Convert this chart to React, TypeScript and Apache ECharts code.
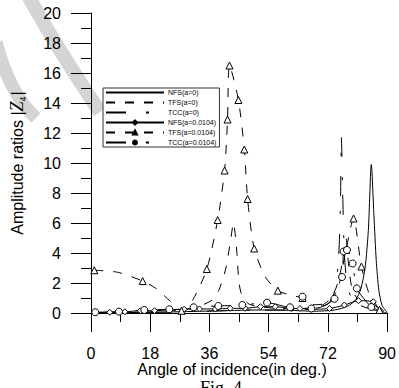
import React, { useEffect, useRef } from "react";
import * as echarts from "echarts";

type P = [number, number];

const seriesNames = [
  "NFS(a=0)",
  "TFS(a=0)",
  "TCC(a=0)",
  "NFS(a=0.0104)",
  "TFS(a=0.0104)",
  "TCC(a=0.0104)",
];

const xMin = 0;
const xMax = 90;
const xStep = 18;
const yMin = 0;
const yMax = 20;
const yStep = 2;

const nfs0: P[] = [
  [0, 0], [10, 0.02], [20, 0.05], [30, 0.1], [40, 0.15], [50, 0.2], [60, 0.18],
  [68, 0.12], [74, 0.2], [78, 0.45], [80.5, 0.9], [82, 1.6], [83.3, 3], [84.3, 5.5],
  [85.2, 9.9], [86, 6.5], [86.7, 3.5], [87.5, 1.5], [88.5, 0.5], [90, 0.05],
];

const tfs0: P[] = [
  [0, 0], [15, 0.05], [25, 0.15], [30, 0.3], [34, 0.55], [37, 0.9], [39, 1.6],
  [41, 3], [42.4, 4.8], [43.3, 6], [44.2, 4.4], [45, 2], [46, 1.1], [48, 0.6],
  [52, 0.4], [58, 0.3], [64, 0.3], [70, 0.5], [73, 1], [75, 2], [76.5, 3.5],
  [77.5, 5], [78.3, 3.2], [79.5, 1.5], [82, 0.7], [86, 0.3], [90, 0],
];

const tcc0: P[] = [
  [0, 0], [20, 0.05], [40, 0.15], [50, 0.2], [60, 0.2], [68, 0.3], [72, 0.6],
  [74, 1.4], [75.2, 3.5], [75.8, 7], [76.1, 11.7], [76.5, 8], [77, 4], [77.8, 2],
  [79, 1.1], [82, 0.5], [86, 0.2], [90, 0],
];

const nfs1Markers: P[] = [
  [1.3, 0.03], [5.7, 0.05], [10.3, 0.08], [15, 0.15], [19.3, 0.15], [24, 0.22],
  [28.3, 0.25], [33, 0.27], [37.8, 0.27], [42.3, 0.31], [46.8, 0.31], [51.5, 0.42],
  [56, 0.42], [61, 0.3], [63.5, 0.3], [67, 0.25], [72.5, 0.3], [77, 0.53],
  [81.3, 0.82], [85.8, 0.75], [88, 0.15],
];
const nfs1Curve: P[] = [[90, 0]];

const tfs1Markers: P[] = [
  [1, 2.85], [15.7, 2.13], [27.5, 0.15], [35.2, 2.93], [38.5, 6.2], [40.6, 9.5],
  [41.5, 12.9], [42.1, 16.5], [44.8, 14.2], [46.6, 10.9], [47.6, 7.6], [49.6, 4.3],
  [56.8, 1.49], [64.3, 1.0], [77.5, 4.2], [79.8, 6.3], [82.2, 3.1], [87.7, 0.2],
];
const tfs1Curve: P[] = [
  [8, 2.72], [20, 1.6], [24, 0.8], [31, 0.9], [53, 2.4], [60.5, 1.2], [68, 0.55],
  [72, 0.7], [75, 1.6], [85, 1.0], [90, 0],
];

const tcc1Markers: P[] = [
  [1.3, 0.05], [8.5, 0.09], [16.2, 0.2], [23.8, 0.25], [31.2, 0.38], [38.7, 0.47],
  [46, 0.53], [53.5, 0.69], [60.5, 0.38], [64.3, 1.09], [67, 0.3], [74, 0.95],
  [76.3, 2.4], [76.8, 4.1], [77.8, 4.2], [79.5, 3.3], [80.8, 1.64], [85.2, 0.4],
];
const tcc1Curve: P[] = [[70, 0.4], [88, 0.1], [90, 0]];

function merge(markers: P[], curve: P[]) {
  const items = [
    ...markers.map((p) => ({ value: p, marker: true })),
    ...curve.map((p) => ({ value: p, marker: false })),
  ].sort((a, b) => a.value[0] - b.value[0]);
  return items.map((it) => (it.marker ? { value: it.value } : { value: it.value, symbol: "none" }));
}

const FONT = "Liberation Sans, Arial, sans-serif";

export default function App() {
  const ref = useRef<HTMLDivElement>(null);
  useEffect(() => {
    if (!ref.current) return;
    const chart = echarts.init(ref.current, undefined, { renderer: "svg" });
    const solid = "solid" as any;
    const dash = [9, 10];
    const dashDot = [20, 20, 3, 15];
    const mk = (name: string, data: any, type: any, symbol: string, symbolSize: number) => ({
      name,
      type: "line",
      data,
      smooth: 0.25,
      symbol,
      symbolSize,
      showSymbol: symbol !== "none",
      showAllSymbol: true,
      lineStyle: { color: "#000", width: 1, type },
      itemStyle: { color: "#fff", borderColor: "#000", borderWidth: 1 },
      emphasis: { disabled: true },
      z: 3,
    });
    const legendData = seriesNames.map((n, i) =>
      i < 3 ? { name: n, itemStyle: { opacity: 0 } } : { name: n, itemStyle: { color: "#000" } }
    );
    chart.setOption({
      animation: false,
      backgroundColor: "#fff",
      textStyle: { fontFamily: FONT },
      grid: { left: 90, right: 9, top: 13, bottom: 75, containLabel: false },
      legend: {
        orient: "vertical",
        left: 103,
        top: 88,
        itemWidth: 58,
        itemHeight: 5,
        itemGap: 3,
        padding: [1, 3, 1, 2],
        borderColor: "#333",
        borderWidth: 1,
        backgroundColor: "#fff",
        textStyle: { fontSize: 7, color: "#000", fontFamily: FONT, padding: [0, 0, 0, -1] },
        data: legendData,
      },
      xAxis: {
        type: "value",
        min: xMin,
        max: xMax,
        interval: xStep,
        name: "Angle of incidence(in deg.)",
        nameLocation: "middle",
        nameGap: 48,
        nameMoveOverlap: false,
        nameTextStyle: { fontSize: 16, color: "#000", fontFamily: FONT, padding: [0, 14, 0, 0] },
        axisLine: { show: true, onZero: false, lineStyle: { color: "#000", width: 1 } },
        axisTick: { show: true, inside: false, length: 19, lineStyle: { color: "#000" } },
        minorTick: { show: true, splitNumber: 2, length: 9, lineStyle: { color: "#000" } },
        axisLabel: { fontSize: 16, color: "#000", margin: 32, fontFamily: FONT },
        splitLine: { show: false },
      },
      yAxis: {
        type: "value",
        min: yMin,
        max: yMax,
        interval: yStep,
        name: "{a|Amplitude ratios |}{z|Z}{s|4}{a||}",
        nameLocation: "middle",
        nameGap: 64,
        nameMoveOverlap: false,
        nameTextStyle: {
          color: "#000",
          rich: {
            a: { fontSize: 16, fontFamily: FONT, color: "#000", lineHeight: 20 },
            z: { fontSize: 18, fontFamily: "Liberation Serif, Times New Roman, serif", fontStyle: "italic", color: "#000", lineHeight: 20 },
            s: { fontSize: 9, fontFamily: FONT, color: "#000", verticalAlign: "bottom", lineHeight: 20, padding: [8, 1, 0, 0] },
          },
        },
        axisLine: { show: true, lineStyle: { color: "#000", width: 1 } },
        axisTick: { show: true, inside: false, length: 20, lineStyle: { color: "#000" } },
        minorTick: { show: true, splitNumber: 2, length: 10, lineStyle: { color: "#000" } },
        axisLabel: { fontSize: 16, color: "#000", margin: 30, fontFamily: FONT },
        splitLine: { show: false },
      },
      graphic: [
        {
          type: "bezierCurve",
          z: -10,
          silent: true,
          shape: { x1: 26, y1: -8, cpx1: 55, cpy1: 45, x2: 100, y2: 112 },
          style: { stroke: "#d4d4d4", lineWidth: 14, fill: "none" },
        },
        {
          type: "bezierCurve",
          z: -10,
          silent: true,
          shape: { x1: -4, y1: 42, cpx1: 10, cpy1: 95, x2: 36, y2: 118 },
          style: { stroke: "#d4d4d4", lineWidth: 13, fill: "none" },
        },
        {
          type: "text",
          left: 200,
          top: 379,
          style: {
            text: "Fig. 4",
            fontSize: 18,
            fontFamily: "Liberation Serif, Times New Roman, serif",
            fill: "#000",
          },
        },
      ],
      series: [
        mk(seriesNames[0], nfs0, solid, "none", 0),
        mk(seriesNames[1], tfs0, dash, "none", 0),
        mk(seriesNames[2], tcc0, dashDot, "none", 0),
        mk(seriesNames[3], merge(nfs1Markers, nfs1Curve), solid, "diamond", 6),
        mk(seriesNames[4], merge(tfs1Markers, tfs1Curve), dash, "triangle", 7),
        mk(seriesNames[5], merge(tcc1Markers, tcc1Curve), dashDot, "circle", 7),
      ],
    });
    return () => chart.dispose();
  }, []);
  return <div ref={ref} style={{ width: 399, height: 388, position: "absolute", left: 0, top: 0 }} />;
}
